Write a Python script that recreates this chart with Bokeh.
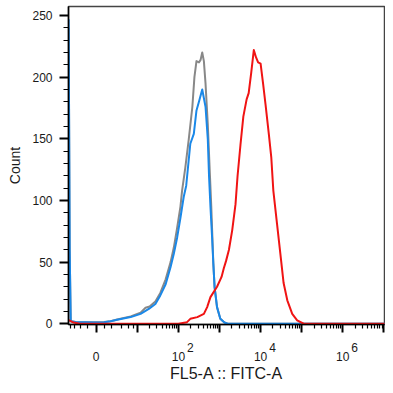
import numpy as np
from bokeh.plotting import figure
from bokeh.models import FixedTicker, CustomJSTickFormatter, LinearAxis, Range1d
from bokeh.embed import file_html
from bokeh.resources import INLINE

# ---- data: x in biexponential display units (decades), y = Count ----
grey_x = [-0.67, -0.645, -0.62, -0.50, -0.26, -0.02, 0.19, 0.35, 0.51, 0.84, 1.08, 1.20, 1.30,
          1.44, 1.56, 1.69, 1.81, 1.89, 1.97, 2.05, 2.09, 2.17, 2.25, 2.34, 2.39, 2.44, 2.50,
          2.54, 2.58, 2.62, 2.66, 2.715, 2.765, 2.80, 2.85, 2.88, 2.94, 3.02, 3.12, 3.20, 7.09]
grey_y = [240, 60, 2, 1.5, 1.2, 1.2, 1.5, 2, 3.5, 6, 9, 13, 14,
          18, 25, 36, 50, 62, 78, 95, 108, 127, 149, 176, 200, 213, 212,
          214, 220, 213, 195, 162, 122, 95, 49, 30, 13.5, 4, 1, 0, 0]

blue_x = [-0.67, -0.645, -0.62, -0.50, -0.26, -0.02, 0.19, 0.35, 0.51, 0.84, 1.08, 1.28, 1.44,
          1.56, 1.69, 1.81, 1.89, 1.97, 2.05, 2.13, 2.19, 2.29, 2.375, 2.44, 2.50, 2.58, 2.66,
          2.715, 2.745, 2.78, 2.82, 2.85, 2.88, 2.94, 3.02, 3.12, 3.20, 7.09]
blue_y = [247, 60, 2, 1.5, 1.2, 1.0, 1.3, 2, 3.2, 5.4, 8, 12, 16,
          23, 32, 46, 57, 70, 86, 103, 112, 146, 154, 173, 180, 190, 176,
          150, 120, 95, 70, 49, 30, 13.5, 4, 1, 0, 0]

red_x = [-0.67, -0.55, -0.40, 2.00, 2.21, 2.29, 2.46, 2.62, 2.70, 2.78, 2.94, 3.05, 3.105,
         3.16, 3.23, 3.31, 3.39, 3.44, 3.51, 3.58, 3.66, 3.71, 3.77, 3.835, 3.89, 3.94, 4.00,
         4.06, 4.12, 4.20, 4.26, 4.31, 4.40, 4.48, 4.56, 4.65, 4.77, 4.89, 5.05, 7.09]
red_y = [3, 1, 0, 0, 1.3, 4, 5.4, 8, 13.5, 21.6, 30, 38, 45,
         51, 60, 76, 97, 120, 145, 168, 182, 187, 203, 222, 216, 212, 211,
         195, 178, 154, 135, 108, 81, 57, 33, 19, 8, 2.7, 0, 0]

# axis ticks (raw FITC values)
major_vals = [0, 10, 1e2, 1e3, 1e4, 1e5, 1e6, 1e7]
major_labels = ["0", "", "10", "", "10", "", "10", ""]
sup_vals = [1e2, 1e4, 1e6]
sup_labels = ["2", "4", "6"]
minor_vals = [-4, -3, -2, -1, 1, 2, 4, 6, 8] + [m * 10 ** k for k in range(1, 7) for m in range(2, 10)]
y_major = [0, 50, 100, 150, 200, 250]
y_minor = list(range(0, 251, 10))


def biex(v):
    return np.arcsinh(np.asarray(v, dtype=float) / 2.0) / np.log(10)


FONT = "Liberation Sans"
TXT = "#1a1a1a"
LOOKUP = """
    for (let i = 0; i < pos.length; i++) {
        if (Math.abs(pos[i] - tick) < 1e-6) { return txt[i]; }
    }
    return "";
"""

p = figure(width=385, height=385, output_backend="svg", toolbar_location=None,
           x_range=Range1d(-0.674, 7.015), y_range=Range1d(-0.6, 257.3),
           min_border_left=68, min_border_right=1, min_border_top=6, min_border_bottom=61)
p.xgrid.visible = False
p.ygrid.visible = False
p.outline_line_color = "#444444"
p.outline_line_width = 1.5
p.background_fill_color = "white"
p.border_fill_color = "white"

p.line(grey_x, grey_y, line_color="#888888", line_width=2, line_join="round")
p.line(blue_x, blue_y, line_color="#1a88e8", line_width=2, line_join="round")
p.line(red_x, red_y, line_color="#f01414", line_width=2, line_join="round")

# main x axis: ticks + "0"/"10" labels
mt = [float(t) for t in biex(major_vals)]
p.xaxis.ticker = FixedTicker(ticks=mt, minor_ticks=[float(t) for t in biex(minor_vals)])
p.xaxis.formatter = CustomJSTickFormatter(args=dict(pos=mt, txt=major_labels), code=LOOKUP)

for ax in [p.xaxis[0], p.yaxis[0]]:
    ax.axis_line_color = "black"
    ax.axis_line_width = 1.5
    ax.major_tick_line_color = "black"
    ax.minor_tick_line_color = "black"
    ax.major_tick_line_width = 2
    ax.minor_tick_line_width = 1.2
    ax.major_tick_in = 0
    ax.minor_tick_in = 0
    ax.major_label_text_font = FONT
    ax.major_label_text_font_size = "12px"
    ax.major_label_text_color = TXT
    ax.axis_label_text_font = FONT
    ax.axis_label_text_font_style = "normal"
    ax.axis_label_text_color = TXT

p.xaxis.major_tick_out = 8
p.xaxis.minor_tick_out = 4
p.xaxis.major_label_standoff = 19

# second axis below: exponents of the decade labels + axis title
sup_pos = [float(t) + 0.29 for t in biex(sup_vals)]
sup_axis = LinearAxis(ticker=FixedTicker(ticks=sup_pos, minor_ticks=[]),
                      formatter=CustomJSTickFormatter(args=dict(pos=sup_pos, txt=sup_labels), code=LOOKUP),
                      axis_line_color=None, major_tick_line_color=None, minor_tick_line_color=None,
                      major_tick_out=0, minor_tick_out=0, major_tick_in=0, minor_tick_in=0,
                      major_label_standoff=-21,
                      major_label_text_font=FONT, major_label_text_font_size="12px",
                      major_label_text_color=TXT,
                      axis_label="FL5-A :: FITC-A", axis_label_standoff=10,
                      axis_label_text_font=FONT, axis_label_text_font_size="16px",
                      axis_label_text_font_style="normal", axis_label_text_color=TXT)
p.add_layout(sup_axis, "below")

p.yaxis.ticker = FixedTicker(ticks=y_major, minor_ticks=y_minor)
p.yaxis.axis_label = "Count"
p.yaxis.axis_label_text_font_size = "14px"
p.yaxis.major_tick_out = 9
p.yaxis.minor_tick_out = 5
p.yaxis.major_label_standoff = 7
p.yaxis.axis_label_standoff = 6

open("out.html", "w").write(file_html(p, INLINE))
